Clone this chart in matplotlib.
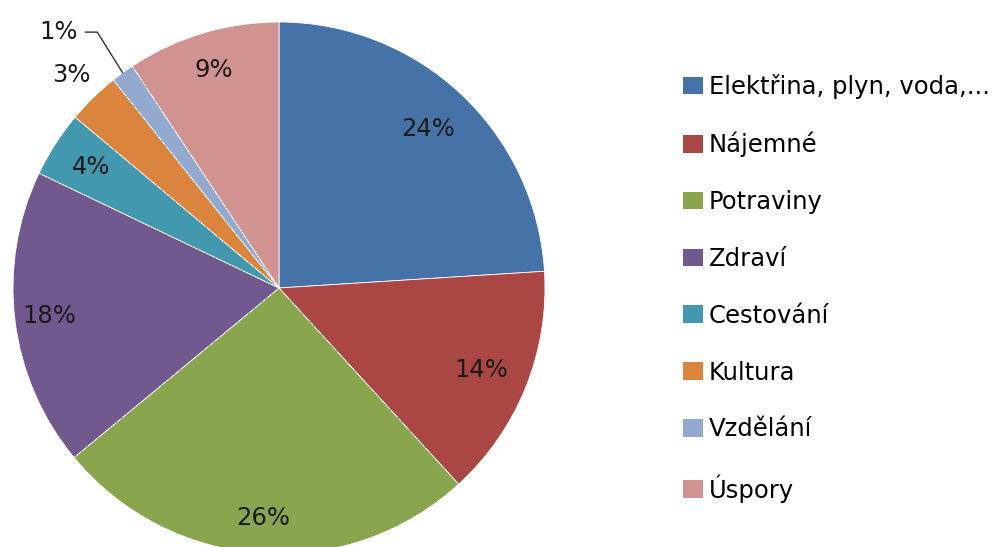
import numpy as np
import matplotlib.pyplot as plt
from matplotlib.patches import Patch

# monthly budget split (share of total, %)
categories = ['Elektřina, plyn, voda,...', 'Nájemné', 'Potraviny', 'Zdraví',
              'Cestování', 'Kultura', 'Vzdělání', 'Úspory']
shares = [24.0, 14.2, 25.8, 18.1, 4.0, 3.2, 1.4, 9.3]
colors = ['#4572A7', '#AA4643', '#89A54E', '#71588F',
          '#4198AF', '#DB843D', '#93A9CF', '#D19392']

# radial position of each percentage label (fraction of radius)
label_r = [0.82, 0.82, 0.865, 0.87, 0.84, 1.12, None, 0.855]

fig = plt.figure(figsize=(9.98, 5.47), dpi=100)
ax = fig.add_axes([13 / 998, -7 / 547, 532 / 998, 532 / 547])

wedges, _ = ax.pie(shares, colors=colors, startangle=90, counterclock=False,
                   radius=1.0, wedgeprops=dict(edgecolor='white', linewidth=0.6))
ax.set_xlim(-1, 1)
ax.set_ylim(-1, 1)
ax.set_aspect('equal')
ax.axis('off')

fs = 17.5
for w, val, r in zip(wedges, shares, label_r):
    mid = np.deg2rad((w.theta1 + w.theta2) / 2)
    txt = '%.0f%%' % val
    if r is None:
        # small slice: label sits outside with a leader line
        ang = np.rad2deg(mid) - 4
        ax.annotate(txt, xy=(np.cos(mid), np.sin(mid)), xytext=(-0.755, 0.962),
                    ha='right', va='center', fontsize=fs, color='#1a1a1a',
                    annotation_clip=False,
                    arrowprops=dict(arrowstyle='-', color='#333333', lw=1.0,
                                    shrinkA=3, shrinkB=0,
                                    connectionstyle='angle,angleA=0,angleB=%.1f' % ang))
    else:
        ax.text(r * np.cos(mid), r * np.sin(mid), txt, ha='center', va='center',
                fontsize=fs, color='#1a1a1a')

handles = [Patch(facecolor=c, edgecolor='none') for c in colors]
fig.legend(handles, categories, loc='upper left',
           bbox_to_anchor=(683 / 998, 1 - 74 / 547), frameon=False,
           fontsize=fs, borderpad=0, borderaxespad=0,
           handlelength=0.82, handleheight=0.74, handletextpad=0.25,
           labelspacing=1.35)

fig.savefig('out.png', dpi=100)
